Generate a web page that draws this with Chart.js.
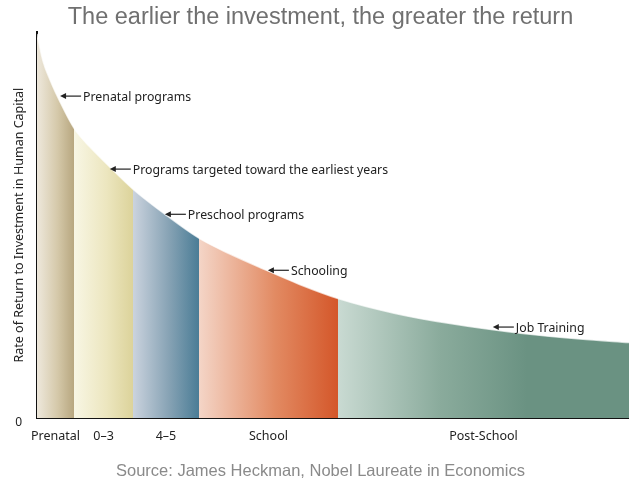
<!DOCTYPE html>
<html>
<head>
<meta charset="utf-8">
<script src="https://cdn.jsdelivr.net/npm/chart.js@4/dist/chart.umd.min.js"></script>
<style>
  html, body { margin: 0; padding: 0; background: #fff; }
  #wrap { width: 629px; height: 483px; }
</style>
</head>
<body>
<div id="wrap"><canvas id="returnChart" width="629" height="483"></canvas></div>
<script>
// stage names and where each stage starts/ends on the (0-100) age axis
const stages = ['Prenatal', '0\u20133', '4\u20135', 'School', 'Post-School'];
const stageBounds = [0, 6.25, 16.22, 27.36, 50.84, 100];

// rate of return curve
const curveX = [0, 1.06, 2.2, 3.89, 6.25, 8.95, 12.33, 16.22, 21.62, 27.36, 32.6, 37.84, 44.26, 50.84, 60.3, 69.76, 81.59, 91.72, 100];
const curveY = [99.5, 92.2, 87.6, 81.9, 75.1, 70.2, 65.0, 59.3, 52.8, 46.6, 42.5, 38.9, 34.7, 31.0, 27.2, 24.5, 22.0, 20.5, 19.6];

// y ticks shown
const yTicks = [0];

// callouts pointing at the curve
const noteLabels = ['Prenatal programs', 'Programs targeted toward the earliest years', 'Preschool programs', 'Schooling', 'Job Training'];
const noteX = [3.9, 12.3, 21.6, 39.0, 77.0];
const noteY = [83.4, 64.5, 52.8, 38.3, 23.6];

// fill colours per stage (left edge -> middle -> right edge)
const stageColors = [
  ['#eee8dc', '#d5c9aa', '#b8a780'],
  ['#f8f6e4', '#ece6bf', '#dcd39b'],
  ['#cbd3de', '#86a2b4', '#4b7d96'],
  ['#f4d5c7', '#e28a62', '#d4572a'],
  ['#c9dad2', '#8aab9c', '#6a9282'],
];
const midStops = [0.55, 0.55, 0.55, 0.55, 0.35];
const endStops = [1, 1, 1, 1, 0.65];

// one gradient over the whole plot, hard stops at the stage bounds
function stageGradient(context) {
  const { chart } = context;
  if (!chart.chartArea) return stageColors[0][2];
  const { left, right } = chart.chartArea;
  const xs = chart.scales.x;
  const g = chart.ctx.createLinearGradient(left, 0, right, 0);
  const frac = (v) => Math.min(1, Math.max(0, (xs.getPixelForValue(v) - left) / (right - left)));
  stages.forEach((_, i) => {
    const f0 = frac(stageBounds[i]);
    const f1 = frac(stageBounds[i + 1]);
    const cols = stageColors[i];
    g.addColorStop(f0, cols[0]);
    g.addColorStop(f0 + (f1 - f0) * midStops[i], cols[1]);
    g.addColorStop(f0 + (f1 - f0) * endStops[i], cols[2]);
    g.addColorStop(Math.max(f0, f1 - 0.0005), cols[2]);
  });
  return g;
}

const stageCenters = stages.map((_, i) => (stageBounds[i] + stageBounds[i + 1]) / 2);

const calloutPlugin = {
  id: 'callouts',
  afterDatasetsDraw(chart) {
    const { ctx } = chart;
    const xs = chart.scales.x;
    const ys = chart.scales.y;
    ctx.save();
    ctx.strokeStyle = '#222';
    ctx.fillStyle = '#222';
    ctx.lineWidth = 1.2;
    ctx.font = '12.3px "Noto Sans", sans-serif';
    ctx.textBaseline = 'middle';
    noteLabels.forEach((label, i) => {
      const px = xs.getPixelForValue(noteX[i]);
      const py = ys.getPixelForValue(noteY[i]);
      ctx.beginPath();
      ctx.moveTo(px + 3, py);
      ctx.lineTo(px + 21, py);
      ctx.stroke();
      ctx.beginPath();
      ctx.moveTo(px, py);
      ctx.lineTo(px + 6, py - 3);
      ctx.lineTo(px + 6, py + 3);
      ctx.closePath();
      ctx.fill();
      ctx.fillText(label, px + 23, py + 1);
    });
    ctx.restore();
  },
};

const ctx = document.getElementById('returnChart').getContext('2d');
new Chart(ctx, {
  type: 'line',
  data: {
    datasets: [{
      label: 'Rate of return',
      data: curveX.map((x, k) => ({ x, y: curveY[k] })),
      fill: 'origin',
      backgroundColor: stageGradient,
      borderColor: 'rgba(255,255,255,0.7)',
      borderWidth: 1.5,
      pointRadius: 0,
      cubicInterpolationMode: 'monotone',
    }],
  },
  options: {
    responsive: false,
    devicePixelRatio: 1,
    animation: false,
    layout: { padding: { left: 12 } },
    plugins: {
      legend: { display: false },
      tooltip: { enabled: false },
      title: {
        display: true,
        text: 'The earlier the investment, the greater the return',
        color: '#707070',
        font: { family: '"Liberation Sans", Arial, sans-serif', size: 23.5, weight: 'normal', lineHeight: 1.2 },
        padding: { top: 3.5, bottom: 0.3 },
      },
      subtitle: {
        display: true,
        position: 'bottom',
        text: 'Source: James Heckman, Nobel Laureate in Economics',
        color: '#8a8a8a',
        font: { family: '"Liberation Sans", Arial, sans-serif', size: 16.5, weight: 'normal', lineHeight: 1.2 },
        padding: { top: 8, bottom: 2 },
      },
    },
    scales: {
      x: {
        type: 'linear',
        min: 0,
        max: 100,
        afterFit: (scale) => { scale.height = 35; },
        afterBuildTicks: (scale) => { scale.ticks = stageCenters.map((v) => ({ value: v })); },
        ticks: {
          autoSkip: false,
          maxRotation: 0,
          padding: 11,
          color: '#222',
          font: { family: '"Noto Sans", sans-serif', size: 12.5 },
          callback: (value, idx) => stages[idx],
        },
        grid: { display: false, drawTicks: false },
        border: { display: true, color: '#111', width: 2 },
      },
      y: {
        min: 0,
        max: 100,
        afterFit: (scale) => { scale.width = 25; },
        afterBuildTicks: (scale) => { scale.ticks = yTicks.map((v) => ({ value: v })); },
        ticks: {
          padding: 15,
          labelOffset: 4,
          color: '#222',
          font: { family: '"Noto Sans", sans-serif', size: 12 },
        },
        title: {
          display: true,
          text: 'Rate of Return to Investment in Human Capital',
          color: '#222',
          font: { family: '"Noto Sans", sans-serif', size: 12.5, lineHeight: 1.2 },
          padding: { top: 0, bottom: 0 },
        },
        grid: { display: false, drawTicks: false },
        border: { display: true, color: '#111', width: 2 },
      },
    },
  },
  plugins: [calloutPlugin],
});
</script>
</body>
</html>
